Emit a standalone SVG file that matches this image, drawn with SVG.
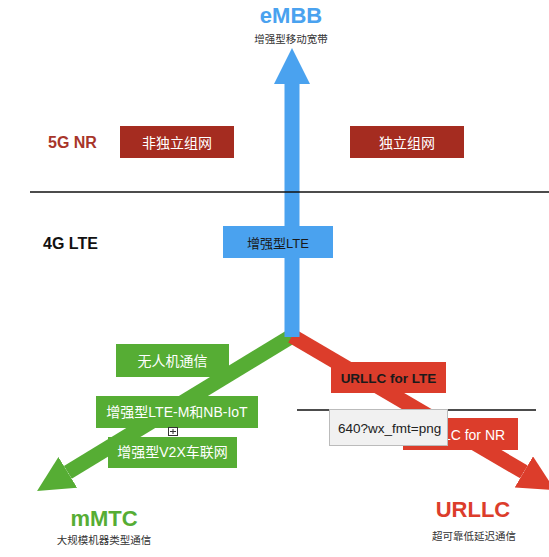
<svg xmlns="http://www.w3.org/2000/svg" width="549" height="557" viewBox="0 0 549 557">
<style>
.t{font-family:"Liberation Sans",Arial,"Noto Sans CJK SC",sans-serif}
.big{font-size:22px;font-weight:bold;text-anchor:middle}
.sub{font-size:10.5px;fill:#333;text-anchor:middle}
.lbl{font-size:14px;text-anchor:middle}
.w{fill:#fff}
.gen{font-size:16px;font-weight:bold}
.shaft{stroke-width:15;fill:none;stroke-linecap:butt}
</style>
<defs>
<marker id="hb" markerUnits="userSpaceOnUse" markerWidth="36" markerHeight="36" refX="0" refY="18" orient="auto" viewBox="0 0 36 36"><path d="M0,0 L36,18 L0,36Z" fill="#4aa2ef"/></marker>
<marker id="hg" markerUnits="userSpaceOnUse" markerWidth="36" markerHeight="36" refX="0" refY="18" orient="auto" viewBox="0 0 36 36"><path d="M0,0 L36,18 L0,36Z" fill="#56ad34"/></marker>
<marker id="hr" markerUnits="userSpaceOnUse" markerWidth="36" markerHeight="36" refX="0" refY="18" orient="auto" viewBox="0 0 36 36"><path d="M0,0 L36,18 L0,36Z" fill="#dc3d2b"/></marker>
</defs>
<rect width="549" height="557" fill="#fff"/>
<g id="connectors">
<path class="shaft" d="M292,336 L67.8,472.4" stroke="#56ad34" marker-end="url(#hg)"/>
<path class="shaft" d="M292,336 L523.9,471.9" stroke="#dc3d2b" marker-end="url(#hr)"/>
<path class="shaft" d="M292,337 L292,84" stroke="#4aa2ef" marker-end="url(#hb)"/>
</g>
<g id="dividers">
<line x1="30" y1="192" x2="549" y2="192" stroke="#111" stroke-width="1.5"/>
<line x1="297" y1="410" x2="536" y2="410" stroke="#111" stroke-width="1.5"/>
</g>
<g id="embb">
<text class="t big" x="291" y="23" fill="#4aa2ef">eMBB</text>
<text class="t sub" x="291" y="43">增强型移动宽带</text>
</g>
<g id="mmtc">
<text class="t big" x="104" y="526" fill="#56ad34">mMTC</text>
<text class="t sub" x="104" y="544">大规模机器类型通信</text>
</g>
<g id="urllc">
<text class="t big" x="473" y="517" fill="#dc3d2b">URLLC</text>
<text class="t sub" x="474" y="540">超可靠低延迟通信</text>
</g>
<g id="gen5">
<text class="t gen" x="48" y="148" fill="#a8352a">5G NR</text>
</g>
<g id="gen4">
<text class="t gen" x="43" y="249" fill="#111">4G LTE</text>
</g>
<g id="nsa">
<rect x="120" y="126" width="114" height="32" fill="#a52c20"/>
<text class="t lbl w" x="177" y="148">非独立组网</text>
</g>
<g id="sa">
<rect x="350" y="126" width="114" height="32" fill="#a52c20"/>
<text class="t lbl w" x="407" y="148">独立组网</text>
</g>
<g id="elte">
<rect x="223" y="226" width="110" height="32" fill="#4aa2ef"/>
<text class="t" x="278" y="248" font-size="13" text-anchor="middle" fill="#1a1a1a">增强型LTE</text>
</g>
<g id="uav">
<rect x="116" y="344" width="113" height="33" fill="#56ad34"/>
<text class="t lbl w" x="172.5" y="366">无人机通信</text>
</g>
<g id="ltem">
<rect x="96" y="396" width="162" height="32" fill="#56ad34"/>
<text class="t lbl w" x="177" y="417">增强型LTE-M和NB-IoT</text>
</g>
<g id="v2x">
<rect x="108" y="437" width="129" height="31" fill="#56ad34"/>
<text class="t lbl w" x="172.5" y="457">增强型V2X车联网</text>
</g>
<g id="urllc-lte">
<rect x="331" y="362" width="115" height="31" fill="#dc3d2b"/>
<text class="t" x="388.5" y="383" font-size="13.5" font-weight="bold" text-anchor="middle" fill="#1a1a1a">URLLC for LTE</text>
</g>
<g id="urllc-nr">
<rect x="403" y="418" width="115" height="32" fill="#dc3d2b"/>
<text class="t lbl w" x="460" y="440">URLLC for NR</text>
</g>
<g id="icon">
<rect x="168.5" y="427.5" width="9" height="8" fill="#fff" stroke="#333" stroke-width="1"/>
<path d="M173,429 V434 M170,431.5 H176" stroke="#333" stroke-width="1"/>
</g>
<g id="tooltip">
<rect x="329.5" y="409.5" width="118" height="36" fill="#f1f1f1" stroke="#bbb" stroke-width="1"/>
<text class="t" x="338" y="433" font-size="13.5" fill="#222">640?wx_fmt=png</text>
</g>
</svg>
